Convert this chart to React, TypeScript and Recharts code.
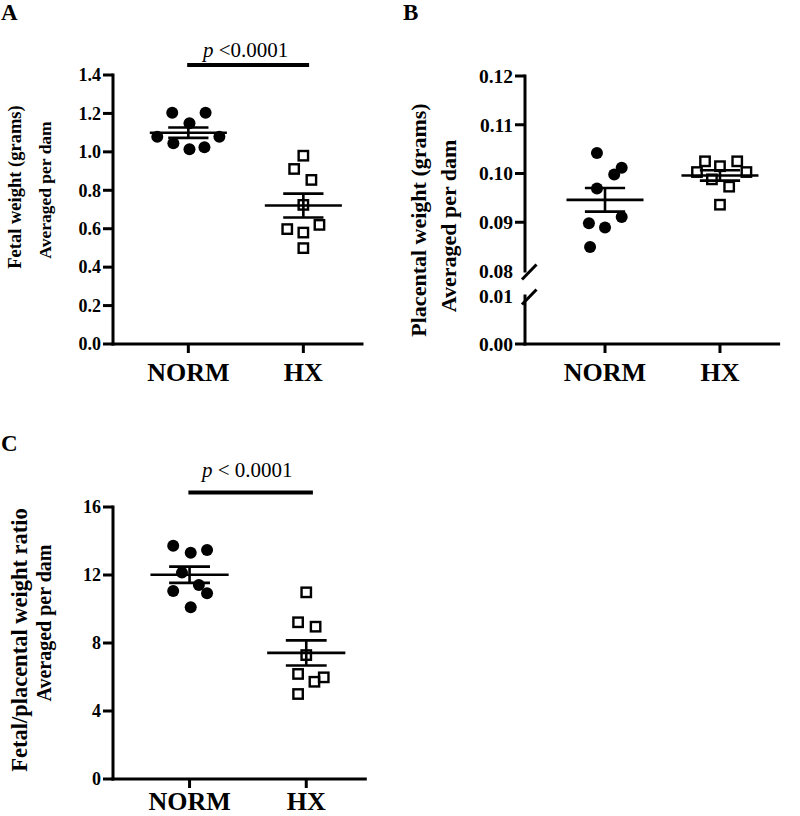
import React from 'react';
import { ScatterChart, Scatter, XAxis, YAxis, ReferenceLine } from 'recharts';

const FONT = '"Liberation Serif", "Times New Roman", Times, serif';

const categories = ['NORM', 'HX'];
const groupPos = [1, 2];

// Panel A: fetal weight (grams), averaged per dam
const fetalNorm = [1.204, 1.204, 1.149, 1.079, 1.079, 1.045, 1.014, 1.024];
const fetalNormJitter = [-0.14, 0.15, 0.01, -0.27, 0.27, -0.13, 0.01, 0.14];
const fetalHx = [0.98, 0.911, 0.854, 0.724, 0.598, 0.58, 0.62, 0.499];
const fetalHxJitter = [0, -0.08, 0.07, 0, -0.14, 0, 0.14, 0];
const fetalTicks = [0, 0.2, 0.4, 0.6, 0.8, 1.0, 1.2, 1.4];

// Panel B: placental weight (grams), averaged per dam
const placNorm = [0.1042, 0.1012, 0.0998, 0.0969, 0.0911, 0.0898, 0.0889, 0.0849];
const placNormJitter = [-0.07, 0.145, 0.08, -0.07, 0.145, -0.14, 0.0, -0.13];
const placHx = [0.1025, 0.1015, 0.1025, 0.1003, 0.1003, 0.0988, 0.0973, 0.0936];
const placHxJitter = [-0.13, 0, 0.15, -0.2, 0.23, -0.07, 0.08, 0];
const placTicksUpper = [0.08, 0.09, 0.1, 0.11, 0.12];
const placTicksLower = [0, 0.01];

// Panel C: fetal/placental weight ratio, averaged per dam
const ratioNorm = [13.72, 13.31, 13.47, 12.14, 11.41, 11.06, 10.92, 10.1];
const ratioNormJitter = [-0.14, 0.01, 0.15, -0.065, 0.08, -0.14, 0.15, 0.01];
const ratioHx = [10.98, 9.22, 8.96, 7.29, 6.18, 5.98, 5.72, 5.0];
const ratioHxJitter = [0, -0.07, 0.08, 0, -0.07, 0.15, 0.07, -0.07];
const ratioTicks = [0, 4, 8, 12, 16];

const TICK = 10;
const TMARGIN = 2;

const toPoints = (vals: number[], jit: number[], center: number) =>
  vals.map((v, i) => ({ x: center + jit[i], y: v }));

const stats = (v: number[]) => {
  const n = v.length;
  const m = v.reduce((a, b) => a + b, 0) / n;
  const sd = Math.sqrt(v.reduce((a, b) => a + (b - m) * (b - m), 0) / (n - 1));
  return { m, sem: sd / Math.sqrt(n) };
};

const Dot = (p: any) => <circle cx={p.cx} cy={p.cy} r={6} fill="#000" />;
const Square = (p: any) => (
  <rect x={p.cx - 4.7} y={p.cy - 4.7} width={9.4} height={9.4} fill="none" stroke="#000" strokeWidth={2.4} />
);
const Nothing = () => <g />;

const meanSem = (vals: number[], center: number, key: string) => {
  const { m, sem } = stats(vals);
  const s = { stroke: '#000', strokeWidth: 2.6 };
  return [
    <ReferenceLine key={key + 'm'} segment={[{ x: center - 0.335, y: m }, { x: center + 0.335, y: m }]} {...s} />,
    <ReferenceLine key={key + 'u'} segment={[{ x: center - 0.175, y: m + sem }, { x: center + 0.175, y: m + sem }]} {...s} />,
    <ReferenceLine key={key + 'l'} segment={[{ x: center - 0.175, y: m - sem }, { x: center + 0.175, y: m - sem }]} {...s} />,
    <ReferenceLine key={key + 'v'} segment={[{ x: center, y: m - sem }, { x: center, y: m + sem }]} {...s} />,
  ];
};

const makeYTick = (fontSize: number, fmt: (v: number) => string, breakVal?: number) => (props: any) => {
  const { x, y, payload } = props;
  const ax = x + TICK + TMARGIN;
  const isBreak = breakVal !== undefined && Math.abs(payload.value - breakVal) < 1e-9;
  return (
    <g>
      {isBreak ? (
        <line x1={ax - 3} y1={y + 8.5} x2={ax + 11.5} y2={y - 6.5} stroke="#000" strokeWidth={3} />
      ) : (
        <line x1={ax - TICK} y1={y} x2={ax} y2={y} stroke="#000" strokeWidth={3} />
      )}
      <text x={x} y={y} dy="0.35em" textAnchor="end" fontFamily={FONT} fontWeight={700} fontSize={fontSize} fill="#000">
        {fmt(payload.value)}
      </text>
    </g>
  );
};

const axisLine = { stroke: '#000', strokeWidth: 3, strokeLinecap: 'square' as const };
const tickLine = { stroke: '#000', strokeWidth: 3 };
const xTickStyle = { fill: '#000', fontSize: 26, fontWeight: 700, fontFamily: FONT };
const catFmt = (v: number) => categories[Math.round(v) - 1] ?? '';

export default function App() {
  const aNorm = toPoints(fetalNorm, fetalNormJitter, groupPos[0]);
  const aHx = toPoints(fetalHx, fetalHxJitter, groupPos[1]);
  const bNorm = toPoints(placNorm, placNormJitter, groupPos[0]);
  const bHx = toPoints(placHx, placHxJitter, groupPos[1]);
  const cNorm = toPoints(ratioNorm, ratioNormJitter, groupPos[0]);
  const cHx = toPoints(ratioHx, ratioHxJitter, groupPos[1]);

  return (
    <div style={{ position: 'absolute', left: 0, top: 0, width: 800, height: 816, background: '#fff', fontFamily: FONT }}>
      {/* Panel A */}
      <div style={{ position: 'absolute', left: 0, top: 0 }}>
        <ScatterChart width={400} height={400} margin={{ top: 75, right: 38, bottom: 0, left: 0 }}>
          <XAxis type="number" dataKey="x" domain={[0.345, 2.51]} ticks={groupPos} tickFormatter={catFmt}
            height={56} axisLine={axisLine} tickLine={tickLine} tickSize={9} tickMargin={9.5} tick={xTickStyle} />
          <YAxis type="number" dataKey="y" domain={[0, 1.4]} ticks={fetalTicks} width={113}
            axisLine={axisLine} tickLine={false} tickSize={TICK} tickMargin={TMARGIN}
            tick={makeYTick(18, (v) => v.toFixed(1))} />
          <ReferenceLine segment={[{ x: 0.99, y: 1.452 }, { x: 2.05, y: 1.452 }]} ifOverflow="visible" stroke="#000" strokeWidth={4} />
          {meanSem(fetalNorm, groupPos[0], 'an')}
          {meanSem(fetalHx, groupPos[1], 'ah')}
          <Scatter data={aNorm} dataKey="y" shape={Dot} isAnimationActive={false} />
          <Scatter data={aHx} dataKey="y" shape={Square} isAnimationActive={false} />
        </ScatterChart>
      </div>

      {/* Panel B upper segment */}
      <div style={{ position: 'absolute', left: 400, top: 0 }}>
        <ScatterChart width={400} height={290} margin={{ top: 76, right: 21.4, bottom: 19, left: 0 }}>
          <XAxis hide type="number" dataKey="x" domain={[0.304, 2.51]} />
          <YAxis type="number" dataKey="y" domain={[0.08, 0.12]} ticks={placTicksUpper} width={125}
            axisLine={axisLine} tickLine={false} tickSize={TICK} tickMargin={TMARGIN}
            tick={makeYTick(19.5, (v) => v.toFixed(2), 0.08)} />
          {meanSem(placNorm, groupPos[0], 'bn')}
          {meanSem(placHx, groupPos[1], 'bh')}
          <Scatter data={bNorm} dataKey="y" shape={Dot} isAnimationActive={false} />
          <Scatter data={bHx} dataKey="y" shape={Square} isAnimationActive={false} />
        </ScatterChart>
      </div>

      {/* Panel B lower segment (axis break: 0 – 0.01) */}
      <div style={{ position: 'absolute', left: 400, top: 280 }}>
        <ScatterChart width={400} height={120} margin={{ top: 16, right: 21.4, bottom: 0, left: 0 }}>
          <XAxis type="number" dataKey="x" domain={[0.304, 2.51]} ticks={groupPos} tickFormatter={catFmt}
            height={56} axisLine={axisLine} tickLine={tickLine} tickSize={9} tickMargin={9.5} tick={xTickStyle} />
          <YAxis type="number" dataKey="y" domain={[0, 0.01]} ticks={placTicksLower} width={125} allowDataOverflow
            axisLine={axisLine} tickLine={false} tickSize={TICK} tickMargin={TMARGIN}
            tick={makeYTick(19.5, (v) => v.toFixed(2), 0.01)} />
          <Scatter data={bNorm} dataKey="y" shape={Nothing} isAnimationActive={false} />
          <Scatter data={bHx} dataKey="y" shape={Nothing} isAnimationActive={false} />
        </ScatterChart>
      </div>

      {/* Panel C */}
      <div style={{ position: 'absolute', left: 0, top: 400 }}>
        <ScatterChart width={400} height={416} margin={{ top: 107, right: 34.7, bottom: 0, left: 0 }}>
          <XAxis type="number" dataKey="x" domain={[0.344, 2.506]} ticks={groupPos} tickFormatter={catFmt}
            height={37} axisLine={axisLine} tickLine={tickLine} tickSize={9} tickMargin={4} tick={xTickStyle} />
          <YAxis type="number" dataKey="y" domain={[0, 16]} ticks={ratioTicks} width={113}
            axisLine={axisLine} tickLine={false} tickSize={TICK} tickMargin={TMARGIN}
            tick={makeYTick(18, (v) => String(v))} />
          <ReferenceLine segment={[{ x: 0.99, y: 16.86 }, { x: 2.057, y: 16.86 }]} ifOverflow="visible" stroke="#000" strokeWidth={4} />
          {meanSem(ratioNorm, groupPos[0], 'cn')}
          {meanSem(ratioHx, groupPos[1], 'ch')}
          <Scatter data={cNorm} dataKey="y" shape={Dot} isAnimationActive={false} />
          <Scatter data={cHx} dataKey="y" shape={Square} isAnimationActive={false} />
        </ScatterChart>
      </div>

      {/* Text overlay */}
      <svg width={800} height={816} style={{ position: 'absolute', left: 0, top: 0, pointerEvents: 'none' }}>
        <g fontFamily={FONT} fill="#000">
          <text x={1} y={20} fontSize={23} fontWeight={700}>A</text>
          <text x={403} y={20} fontSize={23} fontWeight={700}>B</text>
          <text x={1} y={451} fontSize={23} fontWeight={700}>C</text>

          <text x={203} y={57} fontSize={21}><tspan fontStyle="italic">p</tspan> {'<0.0001'}</text>
          <text x={202} y={477} fontSize={21}><tspan fontStyle="italic">p</tspan> {'< 0.0001'}</text>

          <g fontWeight={700}>
            <text transform="translate(21,187) rotate(-90)" textAnchor="middle" fontSize={18.5}>Fetal weight (grams)</text>
            <text transform="translate(51,190) rotate(-90)" textAnchor="middle" fontSize={17.5}>Averaged per dam</text>
            <text transform="translate(426,220) rotate(-90)" textAnchor="middle" fontSize={22}>Placental weight (grams)</text>
            <text transform="translate(456,226) rotate(-90)" textAnchor="middle" fontSize={22}>Averaged per dam</text>
            <text transform="translate(27,640) rotate(-90)" textAnchor="middle" fontSize={22.5}>Fetal/placental weight ratio</text>
            <text transform="translate(51,623) rotate(-90)" textAnchor="middle" fontSize={20}>Averaged per dam</text>
          </g>
        </g>
      </svg>
    </div>
  );
}
